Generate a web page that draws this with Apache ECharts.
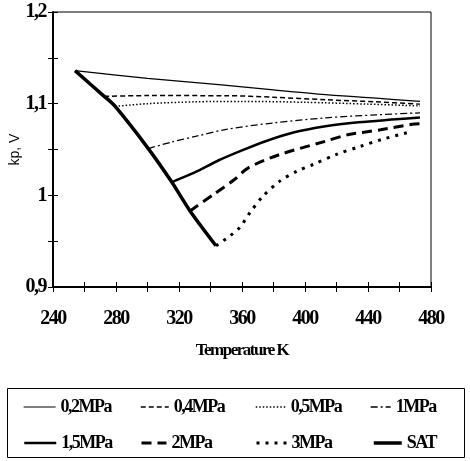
<!DOCTYPE html>
<html><head><meta charset="utf-8">
<script src="https://cdn.jsdelivr.net/npm/echarts@6/dist/echarts.min.js"></script>
<style>html,body{margin:0;padding:0;background:#fff}#c{width:470px;height:461px}</style>
</head><body><div id="c"></div>
<script>
// Condensed look for the serif bold texts (the original uses a tight Times face)
(function(){
  const P = CanvasRenderingContext2D.prototype, ft = P.fillText;
  P.fillText = function(t,x,y,w){
    if ('letterSpacing' in this) this.letterSpacing = /Liberation Serif/.test(this.font) ? '-1.5px' : '0px';
    return ft.call(this,t,x,y,w);
  };
})();

const seriesNames = ['0,2MPa','0,4MPa','0,5MPa','1MPa','1,5MPa','2MPa','3MPa','SAT'];
const p02 = [[254,1.136],[300,1.1275],[347,1.1205],[380,1.115],[413,1.1098],[445,1.106],[473,1.1025]];
const p04 = [[272.5,1.108],[300,1.1088],[350,1.1087],[380,1.107],[413,1.1043],[445,1.102],[473,1.0995]];
const p05 = [[279.5,1.097],[300,1.100],[330,1.102],[360,1.1025],[400,1.1015],[440,1.0995],[473,1.0975]];
const p1  = [[300.5,1.051],[315,1.058],[331,1.0645],[350,1.072],[380,1.079],[413,1.0845],[445,1.0878],[473,1.090]];
const p15 = [[315.4,1.0145],[330,1.025],[345,1.038],[360,1.049],[375,1.059],[392,1.0682],[413,1.0753],[434,1.0797],[455,1.0826],[473,1.0848]];
const p2  = [[327,0.983],[342,1.001],[355,1.017],[364,1.030],[384,1.0445],[413,1.059],[427,1.066],[448,1.0715],[468,1.0775],[473,1.078]];
const p3  = [[343.5,0.945],[352.4,0.9558],[358.7,0.9652],[365,0.981],[373.3,0.999],[384,1.0155],[395,1.0264],[405.3,1.0337],[420,1.0446],[435,1.0533],[448.7,1.0609],[466.7,1.0692]];
const sat = [[254,1.136],[272.5,1.108],[279.5,1.097],[300.5,1.051],[315.4,1.0145],[327,0.983],[343.5,0.945]];
const xTicks = [240,280,320,360,400,440,480];
const yTicks = [0.9,1,1.1,1.2];

const serifBold = {fontFamily:'Liberation Serif', fontWeight:'bold', color:'#000'};
const styles = [
  {width:1.2, type:'solid'},
  {width:1.5, type:[5,3]},
  {width:1.5, type:[1.5,2]},
  {width:1.3, type:[7,3,2,3]},
  {width:2.5, type:'solid'},
  {width:3, type:[10,6]},
  {width:3, type:[3,6]},
  {width:3.5, type:'solid'}
];
const data = [p02,p04,p05,p1,p15,p2,p3,sat];
const series = data.map((d,i)=>({
  name: seriesNames[i], type:'line', data:d, smooth:0.3, symbol:'none',
  xAxisIndex:0, yAxisIndex:0,
  lineStyle:{color:'#000', width:styles[i].width, type:styles[i].type, cap:'butt'},
  itemStyle:{color:'#000'}, z: 2+i
}));
const fmtY = v => yTicks.some(t=>Math.abs(t-v)<1e-6) ? String(Math.round(v*10)/10).replace('.',',') : '';
const fmtX = v => xTicks.includes(v) ? String(v) : '';
// legend placement: [left, top, itemWidth]
const legPos = [[23,398,32],[140,398,28],[255,398,30],[370,398,20],[23,434,32],[140,434,25],[255,434,30],[372,434,28]];
const legends = seriesNames.map((n,i)=>({
  data:[n], left: legPos[i][0], top: legPos[i][1], padding:0,
  itemWidth: legPos[i][2], itemHeight: 12,
  itemStyle:{opacity:0},
  lineStyle:{color:'#000', width:styles[i].width, type:styles[i].type, cap:'butt'},
  textStyle: Object.assign({}, serifBold, {fontSize:18}),
  selectedMode:false
}));
const chart = echarts.init(document.getElementById('c'), null, {renderer:'canvas'});
chart.setOption({
  animation:false,
  backgroundColor:'#fff',
  grid:{left:53, right:39, top:12, bottom:174, show:true, borderColor:'#000', borderWidth:1, containLabel:false, outerBoundsMode:'none'},
  legend: legends,
  xAxis:[
    {type:'value', min:240, max:480, interval:20, position:'bottom',
     axisLine:{lineStyle:{color:'#000', width:2}}, axisTick:{show:true, length:5, lineStyle:{color:'#000',width:1}},
     axisLabel:Object.assign({formatter:fmtX, margin:22, fontSize:20}, serifBold),
     splitLine:{show:false},
     name:'Temperature K', nameLocation:'middle', nameGap:55, nameMoveOverlap:false,
     nameTextStyle:Object.assign({}, serifBold, {fontSize:17})},
    {type:'value', min:240, max:480, interval:20, position:'bottom',
     axisLine:{show:false}, axisTick:{show:true, inside:true, length:5, lineStyle:{color:'#000',width:1}},
     axisLabel:{show:false}, splitLine:{show:false}}
  ],
  yAxis:[
    {type:'value', min:0.9, max:1.2, interval:0.05, position:'left',
     axisLine:{show:true, lineStyle:{color:'#000', width:2}}, axisTick:{show:true, length:5, lineStyle:{color:'#000',width:1}},
     axisLabel:Object.assign({formatter:fmtY, margin:7, fontSize:20}, serifBold),
     splitLine:{show:false},
     name:'kp, V', nameLocation:'middle', nameGap:31, nameRotate:90, nameMoveOverlap:false,
     nameTextStyle:{fontFamily:'Liberation Sans', fontSize:14, color:'#000'}},
    {type:'value', min:0.9, max:1.2, interval:0.05, position:'left',
     axisLine:{show:false}, axisTick:{show:true, inside:true, length:5, lineStyle:{color:'#000',width:1}},
     axisLabel:{show:false}, splitLine:{show:false}}
  ],
  graphic:[{type:'rect', shape:{x:7.5, y:388.5, width:457, height:69}, style:{fill:'none', stroke:'#000', lineWidth:1}, silent:true}],
  series: series
});
</script></body></html>
